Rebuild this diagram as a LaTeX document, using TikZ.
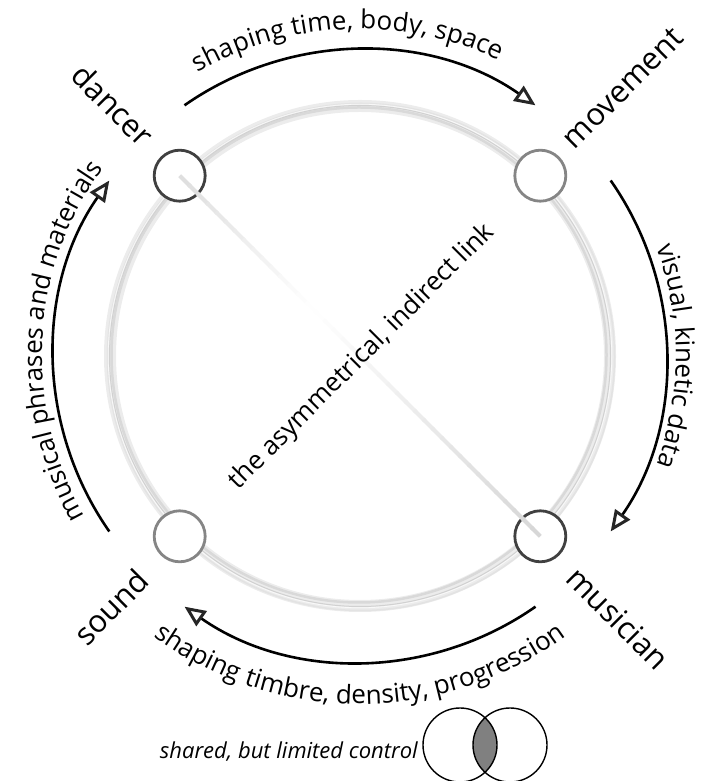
\documentclass[tikz,border=0pt]{standalone}
\usepackage{fontspec}
\setmainfont{Open Sans}
\usetikzlibrary{calc,arrows.meta,decorations.text}
\newcommand{\crvfont}{\fontsize{26}{26}\selectfont}
\begin{document}
\begin{tikzpicture}[x=1pt,y=1pt,
  hub/.style={circle, draw, line width=2.8pt, fill=white, minimum size=51pt, inner sep=0pt},
  lab/.style={font=\fontsize{31}{31}\selectfont, inner sep=0pt},
  flow/.style={line width=2.6pt, -{Triangle[open,length=21pt,width=18pt,line width=3pt,color=black!85]}},
  curved/.style={decorate, decoration={text along path, text align=center, text={#1}}},
  venn/.style={circle, draw=black, line width=1.4pt, minimum size=76pt, inner sep=0pt}]
\useasboundingbox (0,0) rectangle (716,781);
\coordinate (C) at (360,425);

% big ring
\draw[gray!15, line width=12pt] (C) circle[radius=250];
\draw[gray!30, line width=2.5pt] ($(C)+(-1,1)$) circle[radius=247.5];
\draw[gray!22, line width=1.5pt] ($(C)+(1,-1)$) circle[radius=253.5];
\draw[gray!36, line width=1pt] (C) circle[radius=250.5];
\draw[white, line width=0.8pt, opacity=0.7] (C) circle[radius=251.8];

% hubs
\node[hub, draw=black!75] (dancer) at ($(C)+(135:255)$) {};
\node[hub, draw=black!48] (movement) at ($(C)+(45:255)$) {};
\node[hub, draw=black!48] (sound) at ($(C)+(225:255)$) {};
\node[hub, draw=black!75] (musician) at ($(C)+(-45:255)$) {};

% fading diagonal link
\foreach \i in {0,...,39}{
  \pgfmathsetmacro{\ta}{\i/40}
  \pgfmathsetmacro{\tb}{min((\i+1.2)/40,1)}
  \pgfmathsetmacro{\tm}{(\i+0.5)/40}
  \pgfmathsetmacro{\c}{\tm<0.37 ? 26*(1-\tm/0.37) : 32*(\tm-0.37)/0.63}
  \draw[line width=4pt, gray!\c] ($(dancer.center)!\ta!(musician.center)$) -- ($(dancer.center)!\tb!(musician.center)$);
}

% flow arcs
\coordinate (a1) at ($(C)+(125:306)$);
\coordinate (a2) at ($(C)+(35:306)$);
\coordinate (a3) at ($(C)+(-55:306)$);
\coordinate (a4) at ($(C)+(215:306)$);
\draw[flow] (a1) arc[start angle=125, end angle=55, radius=306];
\draw[flow] (a2) arc[start angle=35, end angle=-35, radius=306];
\draw[flow] (a3) arc[start angle=-55, end angle=-125, radius=306];
\draw[flow] (a4) arc[start angle=215, end angle=145, radius=306];

% curved texts
\path[curved={|\crvfont|shaping time{,} body{,} space}] ($(C)+(127.3:327)$) arc[start angle=127.3, end angle=57.3, radius=327];
\path[curved={|\crvfont|visual{,} kinetic data}] ($(C)+(35:316)$) arc[start angle=35, end angle=-35, radius=316];
\path[curved={|\crvfont|shaping timbre{,} density{,} progression}] ($(C)+(-127:348)$) arc[start angle=-127, end angle=-53, radius=348];
\path[curved={|\crvfont|musical phrases and materials}] ($(C)+(212:318)$) arc[start angle=212, end angle=142, radius=318];

% labels
\node[lab, rotate=-45] (tdancer) at (113,676) {dancer};
\node[lab, rotate=45] (tmovement) at (623,693) {movement};
\node[lab, rotate=-45] (tmusician) at (618,163) {musician};
\node[lab, rotate=45] (tsound) at (111,174) {sound};
\node[rotate=45, font=\fontsize{26}{26}\selectfont, inner sep=0pt] (link) at (362,424) {the asymmetrical, indirect link};

% legend
\coordinate (vc1) at (460,36);
\coordinate (vc2) at (510,36);
\begin{scope}
  \clip (vc1) circle[radius=37];
  \fill[gray] (vc2) circle[radius=37];
\end{scope}
\node[venn, minimum size=74pt] (v1) at (vc1) {};
\node[venn, minimum size=74pt] (v2) at (vc2) {};
\node[anchor=base east, font=\itshape\fontsize{22}{22}\selectfont, inner sep=0pt] (shared) at (418,22) {shared, but limited control};
\end{tikzpicture}
\end{document}
